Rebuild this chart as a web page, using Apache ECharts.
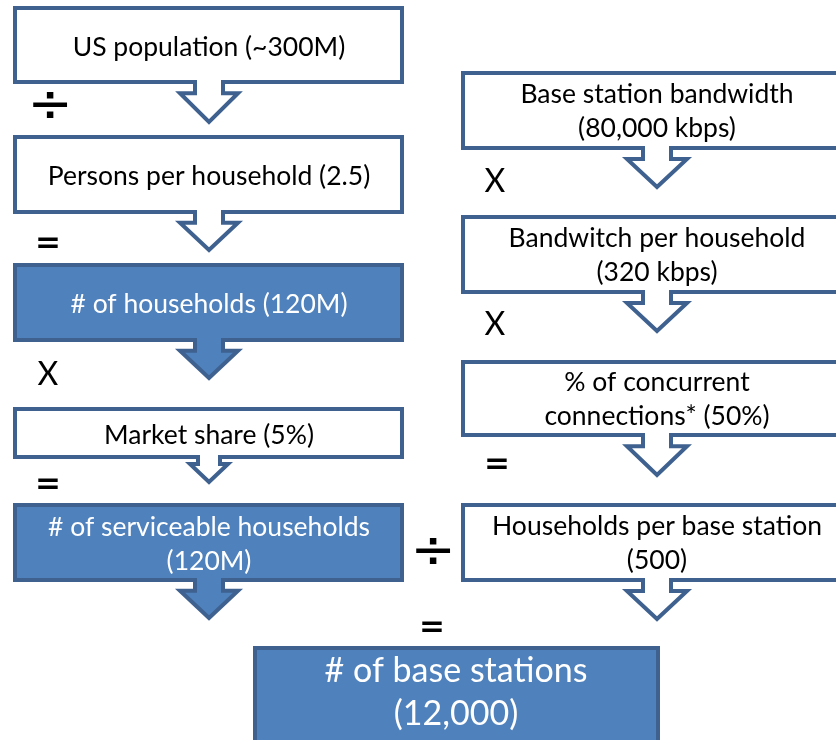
<!DOCTYPE html>
<html>
<head>
<meta charset="utf-8">
<script src="https://cdn.jsdelivr.net/npm/echarts@6/dist/echarts.min.js"></script>
<style>
  html, body { margin: 0; padding: 0; background: #fff; }
  #main { width: 836px; height: 740px; }
</style>
</head>
<body>
<div id="main"></div>
<script>
// texts of the left chain, the right chain and the result
const leftLabels = [
  'US population (~300M)',
  'Persons per household (2.5)',
  '# of households (120M)',
  'Market share (5%)',
  '# of serviceable households\n(120M)'
]
const rightLabels = [
  'Base station bandwidth\n(80,000 kbps)',
  'Bandwitch per household\n(320 kbps)',
  '% of concurrent\nconnections* (50%)',
  'Households per base station\n(500)'
]
const resultLabel = '# of base stations\n(12,000)'
const leftOps = ['÷', '=', 'X', '=']
const rightOps = ['X', 'X', '=']
const joinOps = ['÷', '=']

// layout, in axis units: [x0, y0, x1, y1, arrowTip, headHalf, filled]
const leftBoxes = [
  [15, 8, 402, 82, 122, 29, 0],
  [15, 137, 402, 212, 250, 29, 0],
  [15, 265, 402, 340, 378, 29, 1],
  [15, 409, 402, 457, 482, 19, 0],
  [15, 505, 402, 580, 618, 29, 1]
]
const rightBoxes = [
  [463, 73, 860, 148, 187, 30, 0],
  [463, 217, 860, 292, 331, 30, 0],
  [463, 362, 860, 435, 475, 30, 0],
  [463, 505, 860, 580, 619, 30, 0]
]
const resultBox = [255, 648, 658, 770, 0, 0, 1]
// operator positions: [x, y]
const leftOpPos = [[50, 107], [48, 244], [48, 375], [48, 485]]
const rightOpPos = [[495, 182], [495, 325], [497, 465]]
const joinOpPos = [[433, 553], [432, 628]]

const FONT = 'Lato, "Open Sans", sans-serif'
const LINE = '#3E6190'
const FILL = '#4F81BD'

// extra columns: label, arrow/text centre x, text centre y, font size
const boxData = []
leftBoxes.forEach((b, i) => boxData.push(b.concat([leftLabels[i], 209, (b[1] + b[3]) / 2 + 2, 26.5])))
rightBoxes.forEach((b, i) => boxData.push(b.concat([rightLabels[i], 657, (b[1] + b[3]) / 2 + 1, 26.5])))
boxData.push(resultBox.concat([resultLabel, 456, 693, 34]))

const opData = []
leftOps.forEach((o, i) => opData.push(leftOpPos[i].concat([o])))
rightOps.forEach((o, i) => opData.push(rightOpPos[i].concat([o])))
joinOps.forEach((o, i) => opData.push(joinOpPos[i].concat([o])))

function renderBox (params, api) {
  const x0 = api.value(0); const y0 = api.value(1)
  const x1 = api.value(2); const y1 = api.value(3)
  const tip = api.value(4); const headHalf = api.value(5)
  const filled = api.value(6) === 1
  const label = api.value(7)
  const cx = api.value(8)
  const ty = api.value(9)
  const size = api.value(10)
  const stemHalf = headHalf > 25 ? 14 : 11
  const headTop = tip ? y1 + (tip - y1) * 0.28 : y1
  let pts = [[x0, y0], [x1, y0], [x1, y1]]
  if (tip) {
    pts = pts.concat([
      [cx + stemHalf, y1], [cx + stemHalf, headTop], [cx + headHalf, headTop],
      [cx, tip],
      [cx - headHalf, headTop], [cx - stemHalf, headTop], [cx - stemHalf, y1]
    ])
  }
  pts.push([x0, y1])
  const points = pts.map(p => api.coord(p))
  const mid = api.coord([cx, ty])
  return {
    type: 'group',
    children: [
      {
        type: 'polygon',
        shape: { points: points },
        style: {
          fill: filled ? FILL : '#fff',
          stroke: LINE,
          lineWidth: 4,
          lineJoin: 'miter'
        }
      },
      {
        type: 'text',
        style: {
          text: label,
          x: mid[0],
          y: mid[1],
          align: 'center',
          verticalAlign: 'middle',
          fontFamily: FONT,
          fontSize: size,
          lineHeight: Math.round(size * 1.27),
          fill: filled ? '#fff' : '#000'
        }
      }
    ]
  }
}

function renderOp (params, api) {
  const p = api.coord([api.value(0), api.value(1)])
  const op = api.value(2)
  const style = {
    '÷': { fontFamily: 'DejaVu Sans', fontSize: 54, fontWeight: 'normal' },
    '=': { fontFamily: 'DejaVu Sans', fontSize: 31, fontWeight: 'bold' },
    'X': { fontFamily: FONT, fontSize: 32, fontWeight: 'normal' }
  }[op]
  return {
    type: 'text',
    style: Object.assign({
      text: op,
      x: p[0],
      y: p[1],
      align: 'center',
      verticalAlign: 'middle',
      fill: '#000'
    }, style)
  }
}

const chart = echarts.init(document.getElementById('main'), null, { renderer: 'canvas' })
chart.setOption({
  animation: false,
  backgroundColor: '#fff',
  grid: { left: 0, right: 0, top: 0, bottom: 0 },
  xAxis: { type: 'value', min: 0, max: 836, show: false },
  yAxis: { type: 'value', min: 0, max: 740, inverse: true, show: false },
  series: [
    {
      type: 'custom',
      renderItem: renderBox,
      data: boxData,
      clip: true
    },
    {
      type: 'custom',
      renderItem: renderOp,
      data: opData
    }
  ]
})
</script>
</body>
</html>
